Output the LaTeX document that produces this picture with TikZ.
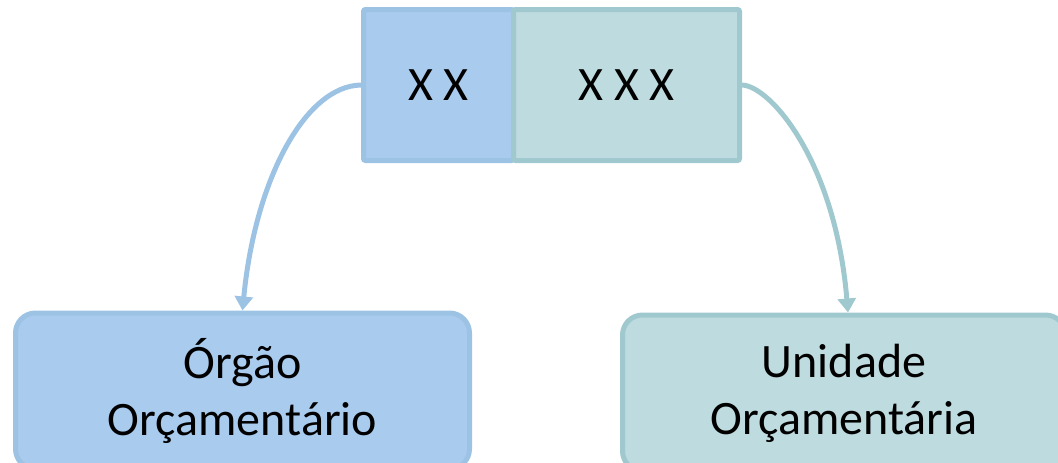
\documentclass[tikz,border=0pt]{standalone}
\usepackage{fontspec}
\setmainfont{Carlito}
\usetikzlibrary{arrows.meta}
\definecolor{bluefill}{RGB}{169,203,238}
\definecolor{blueline}{RGB}{157,195,228}
\definecolor{tealfill}{RGB}{190,219,223}
\definecolor{tealline}{RGB}{160,201,207}
\tikzset{
  codebox/.style={draw, line width=5pt, rounded corners=2pt, inner sep=0pt,
    font=\fontsize{48}{57}\selectfont},
  bigbox/.style={draw, line width=5pt, rounded corners=20pt, inner sep=0pt, align=center,
    font=\fontsize{48}{57}\selectfont},
  conn/.style={line width=5pt, -{Triangle[length=14pt,width=18pt]}},
}
\begin{document}
\begin{tikzpicture}[x=1pt,y=-1pt]
\clip (0,0) rectangle (1058,463);
\useasboundingbox (0,0) rectangle (1058,463);
\node[codebox, fill=bluefill, draw=blueline, minimum width=150pt, minimum height=151pt] (xx) at (438.5,85) {X X};
\node[codebox, fill=tealfill, draw=tealline, minimum width=226pt, minimum height=151pt] (xxx) at (626.5,85) {X X X};
\node[bigbox, fill=bluefill, draw=blueline, minimum width=454pt, minimum height=156pt] (org) at (242.5,391) {Órgão\\Orçamentário};
\node[bigbox, fill=tealfill, draw=tealline, minimum width=443pt, minimum height=156pt] (uni) at (844,393) {Unidade\\Orçamentária};
\draw[conn, blueline] (xx.west) .. controls (305,86) and (255,180) .. (org.north);
\draw[conn, tealline] (xxx.east) .. controls (770,86) and (835,160) .. ([xshift=4pt]uni.north);
\end{tikzpicture}
\end{document}
